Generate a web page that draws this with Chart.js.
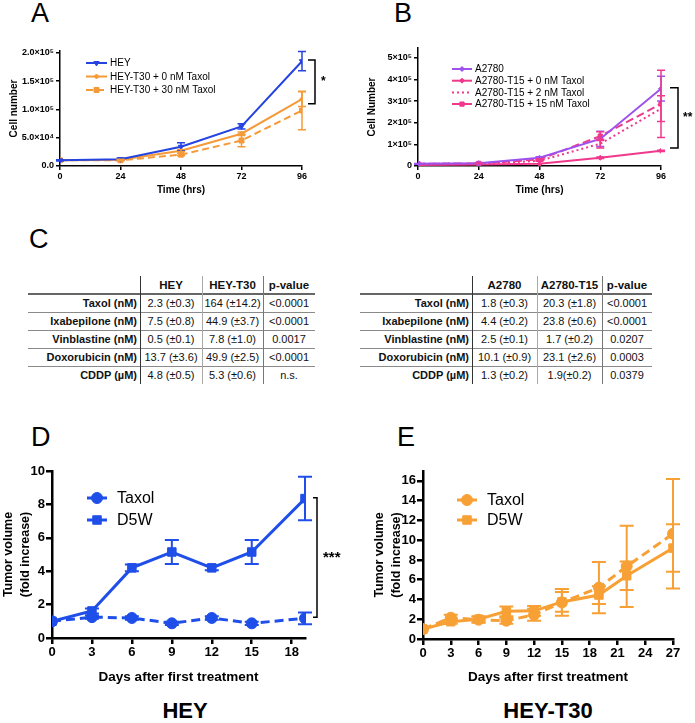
<!DOCTYPE html>
<html>
<head>
<meta charset="utf-8">
<script src="https://cdn.jsdelivr.net/npm/chart.js@4/dist/chart.umd.min.js"></script>
<style>
  body { margin: 0; background: #fff; }
  #page { position: relative; width: 695px; height: 723px; overflow: hidden; font-family: 'Liberation Sans', Arial, sans-serif; }
  canvas { position: absolute; }
  .panel { position: absolute; font-size: 27px; line-height: 27px; color: #000; }
  .big { position: absolute; font-size: 22px; font-weight: bold; line-height: 22px; transform: translateX(-50%); white-space: nowrap; }
  .cell { position: absolute; font-size: 11px; line-height: 18px; height: 18px; white-space: nowrap; color: #111; }
  .hl { position: absolute; height: 1px; background: #8a8a8a; }
  .vl { position: absolute; width: 1px; }
</style>
</head>
<body>
<div id="page">
  <canvas id="cA" width="345" height="160" style="left:0;top:40px"></canvas>
  <canvas id="cB" width="350" height="160" style="left:345px;top:40px"></canvas>
  <canvas id="cD" width="345" height="230" style="left:0;top:455px"></canvas>
  <canvas id="cE" width="350" height="230" style="left:345px;top:455px"></canvas>
  <div class="panel" style="left:31px;top:0px">A</div>
  <div class="panel" style="left:394px;top:0px">B</div>
  <div class="panel" style="left:29px;top:226px">C</div>
  <div class="panel" style="left:31px;top:424px">D</div>
  <div class="panel" style="left:397px;top:424px">E</div>
  <div class="big" style="left:185px;top:700px">HEY</div>
  <div class="big" style="left:548px;top:700px">HEY-T30</div>
  <div id="tables"></div>
</div>
<script>
// ---- panel A: cell number vs time
const aHours = [0, 24, 48, 72, 96];
const aHey = [1.0e4, 1.2e4, 3.4e4, 7.0e4, 1.85e5];
const aHeyErr = [0.1e4, 0.2e4, 0.7e4, 0.45e4, 1.7e4];
const aT30_0 = [1.0e4, 1.1e4, 2.7e4, 5.7e4, 1.18e5];
const aT30_0Err = [0, 0.1e4, 0.2e4, 0.3e4, 1.3e4];
const aT30_30 = [1.0e4, 1.0e4, 2.0e4, 4.5e4, 0.98e5];
const aT30_30Err = [0, 0.1e4, 0.2e4, 1.1e4, 3.4e4];
const aYTicks = [0, 5e4, 1e5, 1.5e5, 2e5];
const aYLabels = ['0.0', '5.0×10⁴', '1.0×10⁵', '1.5×10⁵', '2.0×10⁵'];

// ---- panel B
const bHours = [0, 24, 48, 72, 96];
const bA2780 = [1.0e4, 1.3e4, 3.8e4, 1.25e5, 3.57e5];
const bA2780Err = [0.2e4, 0.3e4, 0.5e4, 0.35e5, 0.57e5];
const bT15_0 = [0.5e4, 0.7e4, 1.0e4, 3.8e4, 7.0e4];
const bT15_0Err = [0, 0, 0, 0.3e4, 0.3e4];
const bT15_2 = [1.0e4, 1.0e4, 2.4e4, 1.03e5, 2.65e5];
const bT15_2Err = [0, 0, 0.2e4, 0.2e5, 0.6e5];
const bT15_15 = [1.0e4, 1.2e4, 3.0e4, 1.38e5, 2.87e5];
const bT15_15Err = [0, 0.2e4, 0.3e4, 0.2e5, 1.55e5];
const bYTicks = [0, 1e5, 2e5, 3e5, 4e5, 5e5];
const bYLabels = ['0', '1×10⁵', '2×10⁵', '3×10⁵', '4×10⁵', '5×10⁵'];

// ---- panel D: HEY xenograft
const dDays = [0, 3, 6, 9, 12, 15, 19];
const dTaxol = [1.0, 1.25, 1.2, 0.88, 1.2, 0.88, 1.18];
const dTaxolErr = [0, 0.1, 0.1, 0.1, 0.1, 0.1, 0.35];
const dD5W = [1.0, 1.62, 4.2, 5.15, 4.2, 5.15, 8.35];
const dD5WErr = [0, 0.15, 0.2, 0.72, 0.15, 0.72, 1.3];
const dXTicks = [0, 3, 6, 9, 12, 15, 18];
const dYTicks = [0, 2, 4, 6, 8, 10];

// ---- panel E: HEY-T30 xenograft
const eDays = [0, 3, 6, 9, 12, 15, 19, 22, 27];
const eTaxol = [1.0, 2.15, 1.95, 1.85, 2.45, 3.7, 5.2, 7.35, 10.65];
const eTaxolErr = [0, 0.3, 0.3, 0.3, 0.6, 1.35, 2.6, 4.1, 5.55];
const eD5W = [1.0, 1.75, 2.0, 2.8, 2.85, 3.75, 4.45, 6.4, 9.2];
const eD5WErr = [0, 0.2, 0.3, 0.5, 0.5, 1.0, 0.9, 1.45, 2.4];
const eXTicks = [0, 3, 6, 9, 12, 15, 18, 21, 24, 27];
const eYTicks = [0, 2, 4, 6, 8, 10, 12, 14, 16];

// ---- panel C tables
const cLeftHead = ['HEY', 'HEY-T30', 'p-value'];
const cRightHead = ['A2780', 'A2780-T15', 'p-value'];
const cDrugs = ['Taxol (nM)', 'Ixabepilone (nM)', 'Vinblastine (nM)', 'Doxorubicin (nM)', 'CDDP (µM)'];
const cHey = ['2.3 (±0.3)', '7.5 (±0.8)', '0.5 (±0.1)', '13.7 (±3.6)', '4.8 (±0.5)'];
const cHeyT30 = ['164 (±14.2)', '44.9 (±3.7)', '7.8 (±1.0)', '49.9 (±2.5)', '5.3 (±0.6)'];
const cHeyP = ['<0.0001', '<0.0001', '0.0017', '<0.0001', 'n.s.'];
const cA2780 = ['1.8 (±0.3)', '4.4 (±0.2)', '2.5 (±0.1)', '10.1 (±0.9)', '1.3 (±0.2)'];
const cA2780T15 = ['20.3 (±1.8)', '23.8 (±0.6)', '1.7 (±0.2)', '23.1 (±2.6)', '1.9(±0.2)'];
const cA2780P = ['<0.0001', '<0.0001', '0.0207', '0.0003', '0.0379'];

const SANS = "'Liberation Sans', Arial, sans-serif";

// error bars drawn through the y scale
const errorBars = {
  id: 'errorBars',
  afterDatasetsDraw(chart, args, opts) {
    const ctx = chart.ctx, y = chart.scales.y;
    chart.data.datasets.forEach((ds, di) => {
      if (!ds.errors) return;
      const meta = chart.getDatasetMeta(di);
      ctx.save();
      ctx.strokeStyle = ds.borderColor;
      ctx.lineWidth = opts.width;
      ctx.setLineDash([]);
      meta.data.forEach((pt, i) => {
        const e = ds.errors[i];
        if (!e) return;
        const v = ds.data[i].y;
        const t = y.getPixelForValue(v + e), b = y.getPixelForValue(v - e);
        ctx.beginPath();
        ctx.moveTo(pt.x, t); ctx.lineTo(pt.x, b);
        ctx.moveTo(pt.x - opts.cap, t); ctx.lineTo(pt.x + opts.cap, t);
        ctx.moveTo(pt.x - opts.cap, b); ctx.lineTo(pt.x + opts.cap, b);
        ctx.stroke();
      });
      ctx.restore();
    });
  }
};

// significance bracket on the right of the plot
const bracket = {
  id: 'bracket',
  afterDraw(chart, args, o) {
    if (!o.label) return;
    const ctx = chart.ctx, y = chart.scales.y;
    const x = chart.chartArea.right + o.dx;
    const t = y.getPixelForValue(o.from), b = y.getPixelForValue(o.to);
    ctx.save();
    ctx.strokeStyle = '#000';
    ctx.lineWidth = o.width;
    ctx.beginPath();
    ctx.moveTo(x - o.stub, t); ctx.lineTo(x, t); ctx.lineTo(x, b); ctx.lineTo(x - o.stub, b);
    ctx.stroke();
    ctx.fillStyle = '#000';
    ctx.font = o.font;
    ctx.textBaseline = 'middle';
    ctx.fillText(o.label, x + o.labelDx, (t + b) / 2 + o.labelDy);
    ctx.restore();
  }
};

// legend drawn from dataset styles
const customLegend = {
  id: 'customLegend',
  afterDraw(chart, args, o) {
    const ctx = chart.ctx;
    chart.data.datasets.forEach((ds, i) => {
      const y = o.y + i * o.rowH;
      ctx.save();
      ctx.strokeStyle = ds.borderColor;
      ctx.lineWidth = ds.borderWidth;
      ctx.setLineDash(ds.borderDash || []);
      ctx.beginPath();
      ctx.moveTo(o.x, y); ctx.lineTo(o.x + o.len, y);
      ctx.stroke();
      ctx.setLineDash([]);
      if (ds.pointRadius > 0) {
        ctx.fillStyle = ds.pointBackgroundColor;
        ctx.lineWidth = 1;
        Chart.helpers.drawPoint(ctx, { pointStyle: ds.pointStyle, rotation: ds.pointRotation || 0, radius: ds.pointRadius, borderWidth: 1 }, o.x + o.len / 2, y);
      }
      ctx.fillStyle = '#000';
      ctx.font = o.font;
      ctx.textBaseline = 'middle';
      ctx.fillText(ds.label, o.x + o.len + o.gap, y + 0.5);
      ctx.restore();
    });
  }
};

function series(label, xs, ys, errors, color, extra) {
  return Object.assign({
    label, data: ys.map((v, i) => ({ x: xs[i], y: v })), errors,
    borderColor: color, backgroundColor: color,
    pointBackgroundColor: color, pointBorderColor: color, pointBorderWidth: 1,
    borderWidth: 2, tension: 0, fill: false
  }, extra);
}

function axis(o) {
  return {
    type: 'linear',
    min: o.min, max: o.max,
    afterBuildTicks: s => { s.ticks = o.ticks.map(v => ({ value: v })); },
    afterFit: s => { if (o.width) s.width = o.width; if (o.height) s.height = o.height; },
    border: { display: true, color: '#000', width: o.lw },
    grid: { display: true, drawOnChartArea: false, drawTicks: true, tickLength: o.tick, color: '#000', lineWidth: o.lw },
    ticks: {
      color: '#000', padding: o.pad, maxRotation: 0, autoSkip: false, font: o.font,
      callback: o.labels ? ((v, i) => o.labels[i]) : (v => String(v))
    },
    title: { display: true, text: o.title, color: '#000', font: o.titleFont, padding: 0 }
  };
}

function makeChart(id, datasets, x, y, padding, plug) {
  return new Chart(document.getElementById(id), {
    type: 'line',
    data: { datasets },
    options: {
      responsive: false, animation: false,
      layout: { padding },
      plugins: Object.assign({ legend: { display: false }, tooltip: { enabled: false } }, plug),
      scales: { x, y }
    },
    plugins: [errorBars, bracket, customLegend]
  });
}

const smallTick = { family: SANS, size: 9, weight: 'bold' };
const smallTitle = { family: SANS, size: 10, weight: 'bold' };
const bigTick = { family: SANS, size: 13, weight: 'bold' };
const xTitle = { family: SANS, size: 13.5, weight: 'bold' };
const yTitle = { family: SANS, size: 12.5, weight: 'bold', lineHeight: 1.35 };

// A
const blueA = '#2443e0', orangeA = '#f49a38';
makeChart('cA', [
  series('HEY', aHours, aHey, aHeyErr, blueA, { pointStyle: 'triangle', pointRotation: 180, pointRadius: 3 }),
  series('HEY-T30 + 0 nM Taxol', aHours, aT30_0, aT30_0Err, orangeA, { pointStyle: 'rectRot', pointRadius: 2.5 }),
  series('HEY-T30 + 30 nM Taxol', aHours, aT30_30, aT30_30Err, orangeA, { pointStyle: 'rect', pointRadius: 3.5, borderDash: [7, 4] })
],
  axis({ min: 0, max: 96, ticks: aHours, lw: 1.5, tick: 4, pad: 1, height: 30, font: smallTick, title: 'Time (hrs)', titleFont: smallTitle }),
  axis({ min: 0, max: 2.03e5, ticks: aYTicks, labels: aYLabels, lw: 1.5, tick: 4, pad: 2, width: 52, font: smallTick, title: 'Cell number', titleFont: smallTitle }),
  { left: 8, top: 11, right: 43, bottom: 4 }, {
  errorBars: { width: 1.5, cap: 4 },
  bracket: { dx: 13, stub: 7, from: 1.87e5, to: 1.10e5, width: 1.5, label: '*', labelDx: 6, labelDy: 0, font: 'bold 12px ' + SANS },
  customLegend: { x: 86, y: 23, rowH: 13.5, len: 21, gap: 3, font: '10px ' + SANS }
});

// B
const purple = '#9d52ee', pink = '#f0388c';
makeChart('cB', [
  series('A2780', bHours, bA2780, bA2780Err, purple, { pointStyle: 'rectRot', pointRadius: 2.5 }),
  series('A2780-T15 + 0 nM Taxol', bHours, bT15_0, bT15_0Err, pink, { pointStyle: 'rectRot', pointRadius: 2.5 }),
  series('A2780-T15 + 2 nM Taxol', bHours, bT15_2, bT15_2Err, pink, { pointRadius: 0, borderDash: [2, 3] }),
  series('A2780-T15 + 15 nM Taxol', bHours, bT15_15, bT15_15Err, pink, { pointStyle: 'rect', pointRadius: 3, borderDash: [8, 4] })
],
  axis({ min: 0, max: 96, ticks: bHours, lw: 1.5, tick: 4, pad: 1, height: 30, font: smallTick, title: 'Time (hrs)', titleFont: smallTitle }),
  axis({ min: 0, max: 5.45e5, ticks: bYTicks, labels: bYLabels, lw: 1.5, tick: 4, pad: 2, width: 52, font: smallTick, title: 'Cell Number', titleFont: smallTitle }),
  { left: 21, top: 8, right: 34, bottom: 4 }, {
  errorBars: { width: 1.5, cap: 4 },
  bracket: { dx: 17, stub: 8, from: 3.61e5, to: 0.83e5, width: 1.5, label: '**', labelDx: 5, labelDy: 0, font: 'bold 12px ' + SANS },
  customLegend: { x: 107, y: 29, rowH: 11.7, len: 20, gap: 3, font: '10px ' + SANS }
});

// D
const blueD = '#1f4fe8';
makeChart('cD', [
  series('Taxol', dDays, dTaxol, dTaxolErr, blueD, { pointStyle: 'circle', pointRadius: 5.5, borderWidth: 3, borderDash: [9, 5] }),
  series('D5W', dDays, dD5W, dD5WErr, blueD, { pointStyle: 'rect', pointRadius: 6, borderWidth: 3 })
],
  axis({ min: 0, max: 19, ticks: dXTicks, lw: 2.5, tick: 6, pad: 1, height: 47, font: bigTick, title: 'Days after first treatment', titleFont: xTitle }),
  axis({ min: 0, max: 10, ticks: dYTicks, lw: 2.5, tick: 6, pad: 1, width: 52, font: bigTick, title: ['Tumor volume', '(fold increase)'], titleFont: yTitle }),
  { left: 0, top: 16, right: 40, bottom: 0 }, {
  errorBars: { width: 2, cap: 7 },
  bracket: { dx: 12, stub: 4, from: 8.4, to: 1.25, width: 1.5, label: '***', labelDx: 6, labelDy: 0, font: 'bold 15px ' + SANS },
  customLegend: { x: 87, y: 43, rowH: 22, len: 20, gap: 10, font: '16px ' + SANS }
});

// E
const orangeE = '#f7a035';
makeChart('cE', [
  series('Taxol', eDays, eTaxol, eTaxolErr, orangeE, { pointStyle: 'circle', pointRadius: 5.5, borderWidth: 3, borderDash: [9, 5] }),
  series('D5W', eDays, eD5W, eD5WErr, orangeE, { pointStyle: 'rect', pointRadius: 6, borderWidth: 3 })
],
  axis({ min: 0, max: 27, ticks: eXTicks, lw: 2.5, tick: 6, pad: 1, height: 46, font: bigTick, title: 'Days after first treatment', titleFont: xTitle }),
  axis({ min: 0, max: 17, ticks: eYTicks, lw: 2.5, tick: 6, pad: 1, width: 52, font: bigTick, title: ['Tumor volume', '(fold increase)'], titleFont: yTitle }),
  { left: 26, top: 16, right: 22, bottom: 0 }, {
  errorBars: { width: 2, cap: 7 },
  bracket: { label: '' },
  customLegend: { x: 112, y: 45, rowH: 20, len: 20, gap: 10, font: '16px ' + SANS }
});

// C tables
function buildTable(edges, heads, cols, top) {
  const root = document.getElementById('tables');
  const add = (cls, style, text) => {
    const el = document.createElement('div');
    el.className = cls; el.setAttribute('style', style);
    if (text !== undefined) el.textContent = text;
    root.appendChild(el);
  };
  const rowH = 18, left = edges[0], right = edges[edges.length - 1];
  heads.forEach((h, i) => add('cell', `left:${edges[i + 1]}px;width:${edges[i + 2] - edges[i + 1]}px;top:${top}px;text-align:center;font-weight:bold;font-size:11.5px`, h));
  add('hl', `left:${left}px;width:${right - left}px;top:${top + rowH - 1}px;height:2px;background:#666`);
  cDrugs.forEach((d, r) => {
    const y = top + rowH * (r + 1);
    add('cell', `left:${left}px;width:${edges[1] - left - 3}px;top:${y}px;text-align:right;font-weight:bold`, d);
    cols.forEach((c, i) => add('cell', `left:${edges[i + 1]}px;width:${edges[i + 2] - edges[i + 1]}px;top:${y}px;text-align:center`, c[r]));
    if (r < cDrugs.length - 1) add('hl', `left:${left}px;width:${right - left}px;top:${y + rowH}px`);
  });
  const vcol = ['#333', '#aaa', '#777'];
  for (let i = 1; i < edges.length - 1; i++) {
    add('vl', `left:${edges[i]}px;top:${top}px;height:${rowH * 6}px;background:${vcol[i - 1]}`);
  }
}
buildTable([28, 140, 202, 263, 315], cLeftHead, [cHey, cHeyT30, cHeyP], 276);
buildTable([360, 472, 537, 602, 652], cRightHead, [cA2780, cA2780T15, cA2780P], 276);
</script>
</body>
</html>
